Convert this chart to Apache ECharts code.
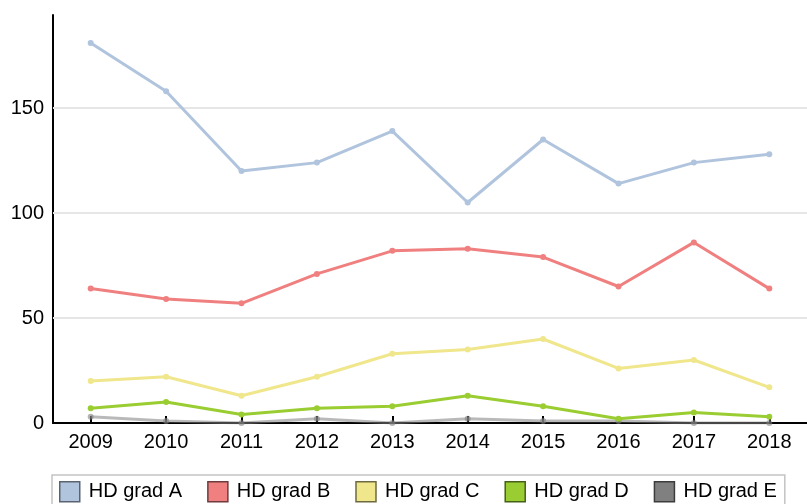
<!DOCTYPE html>
<html>
<head>
<meta charset="utf-8">
<script src="https://cdn.jsdelivr.net/npm/echarts@6/dist/echarts.min.js"></script>
<style>
  html, body { margin: 0; padding: 0; background: #fff; }
  #chart { width: 807px; height: 504px; }
</style>
</head>
<body>
<div id="chart"></div>
<script>
// data
const years = ['2009', '2010', '2011', '2012', '2013', '2014', '2015', '2016', '2017', '2018']
const gradA = [181, 158, 120, 124, 139, 105, 135, 114, 124, 128]
const gradB = [64, 59, 57, 71, 82, 83, 79, 65, 86, 64]
const gradC = [20, 22, 13, 22, 33, 35, 40, 26, 30, 17]
const gradD = [7, 10, 4, 7, 8, 13, 8, 2, 5, 3]
const gradE = [3, 1, 0, 2, 0, 2, 1, 1, 0, 0]
const seriesNames = ['HD grad A', 'HD grad B', 'HD grad C', 'HD grad D', 'HD grad E']
const yGridValues = [50, 100, 150]

const colors = ['#b0c4de', '#f08080', '#f0e68c', '#9acd32', '#808080']
const iconBorders = ['#5a6470', '#6e3c3c', '#6e6a40', '#46601a', '#3c3c3c']
const FONT = 'Liberation Sans'

const chart = echarts.init(document.getElementById('chart'))

const lineSeries = [gradA, gradB, gradC, gradD, gradE].map((vals, i) => ({
  name: seriesNames[i],
  type: 'line',
  data: vals,
  symbol: 'circle',
  symbolSize: 6,
  itemStyle: { color: colors[i], opacity: i === 4 ? 0.6 : 1 },
  lineStyle: { color: colors[i], width: 3, opacity: i === 4 ? 0.55 : 1 },
  z: 10 - i
}))

// light horizontal gridlines (own series so they stay below the lines)
lineSeries.push({
  name: 'grid',
  type: 'line',
  data: [],
  silent: true,
  z: 1,
  markLine: {
    silent: true,
    symbol: 'none',
    label: { show: false },
    lineStyle: { color: '#e6e6e6', width: 2, type: 'solid' },
    data: yGridValues.map(v => ({ yAxis: v }))
  }
})

chart.setOption({
  animation: false,
  backgroundColor: '#fff',
  textStyle: { fontFamily: FONT },
  grid: { left: 53, right: -10, top: 15, bottom: 81, containLabel: false },
  xAxis: {
    type: 'category',
    data: years,
    boundaryGap: true,
    axisLine: { show: true, lineStyle: { color: '#000', width: 2 } },
    axisTick: { show: true, inside: true, length: 7, alignWithLabel: true, lineStyle: { color: '#000', width: 2 } },
    axisLabel: { color: '#000', fontSize: 20, fontFamily: FONT, margin: 9 },
    splitLine: { show: false }
  },
  yAxis: {
    type: 'value',
    min: 0,
    max: 194.3,
    interval: 50,
    axisLine: { show: true, lineStyle: { color: '#000', width: 2 } },
    axisTick: { show: false },
    axisLabel: {
      color: '#000', fontSize: 20, fontFamily: FONT, margin: 9,
      formatter: v => (v % 50 === 0 ? String(v) : '')
    },
    splitLine: { show: false }
  },
  legend: {
    data: seriesNames.map((n, i) => ({
      name: n,
      icon: 'rect',
      itemStyle: { color: colors[i], borderColor: iconBorders[i], borderWidth: 1.5, opacity: 1 }
    })),
    left: 52,
    top: 475,
    padding: [6, 8, 8, 7],
    borderColor: '#c4c4c4',
    borderWidth: 1.5,
    itemWidth: 20,
    itemHeight: 20,
    itemGap: 25,
    selectedMode: false,
    textStyle: { color: '#000', fontSize: 20, fontFamily: FONT, padding: [0, 0, 0, 4] }
  },
  series: lineSeries
})
</script>
</body>
</html>
